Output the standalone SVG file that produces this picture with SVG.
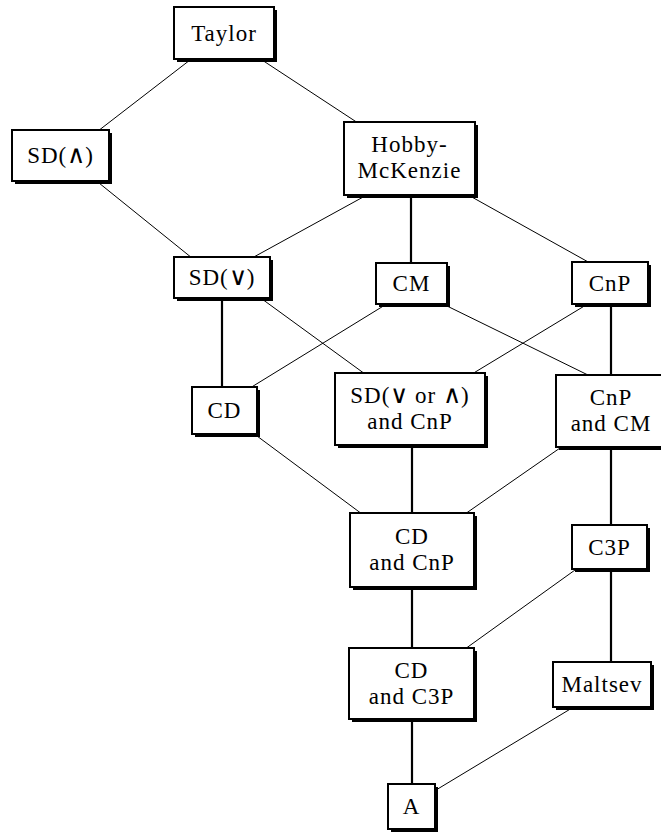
<svg xmlns="http://www.w3.org/2000/svg" width="661" height="832" viewBox="0 0 661 832">
<style>
.bg{fill:#fff}
.sh{fill:#000}
.bx{fill:#fff;stroke:#000;stroke-width:2}
.d{stroke:#000;stroke-width:1;fill:none}
.v{stroke:#000;stroke-width:2.2;fill:none}
text{font-family:"Liberation Serif","DejaVu Serif","Times New Roman",serif;font-size:23px;letter-spacing:1px;text-anchor:middle;fill:#000}
.op{font-family:"DejaVu Sans",sans-serif;font-size:25px;font-weight:300;letter-spacing:0}
</style>
<rect class="bg" x="0" y="0" width="661" height="832"/>
<g id="connectors">
<line class="d" x1="190" y1="60" x2="98" y2="131"/>
<line class="d" x1="262" y1="60" x2="358" y2="123"/>
<line class="d" x1="99" y1="183" x2="192" y2="258"/>
<line class="d" x1="365" y1="196" x2="252" y2="258"/>
<line class="v" x1="411" y1="196" x2="411" y2="264"/>
<line class="d" x1="470" y1="196" x2="590" y2="263"/>
<line class="v" x1="222" y1="299" x2="222" y2="388"/>
<line class="d" x1="262" y1="299" x2="365" y2="374"/>
<line class="d" x1="385" y1="305" x2="250" y2="388"/>
<line class="d" x1="445" y1="305" x2="590" y2="376"/>
<line class="d" x1="586" y1="305" x2="472" y2="374"/>
<line class="v" x1="611" y1="305" x2="611" y2="376"/>
<line class="d" x1="257" y1="436" x2="362" y2="514"/>
<line class="v" x1="412" y1="446" x2="412" y2="514"/>
<line class="d" x1="560" y1="448" x2="465" y2="514"/>
<line class="v" x1="611" y1="448" x2="611" y2="526"/>
<line class="d" x1="575" y1="570" x2="465" y2="649"/>
<line class="v" x1="611" y1="570" x2="611" y2="663"/>
<line class="v" x1="412" y1="588" x2="412" y2="649"/>
<line class="v" x1="412" y1="720" x2="412" y2="785"/>
<line class="d" x1="572" y1="708" x2="436" y2="790"/>
</g>
<g id="taylor"><rect class="sh" x="177" y="10" width="100" height="52"/><rect class="bx" x="174" y="7" width="100" height="52"/><text x="224" y="41">Taylor</text></g>
<g id="sd-meet"><rect class="sh" x="15" y="133" width="97" height="51"/><rect class="bx" x="12" y="130" width="97" height="51"/><text x="60.5" y="163">SD(<tspan class="op">∧</tspan>)</text></g>
<g id="hobby"><rect class="sh" x="347" y="125" width="131" height="73"/><rect class="bx" x="344" y="122" width="131" height="73"/><text x="409.5" y="152">Hobby-</text><text x="409.5" y="178">McKenzie</text></g>
<g id="sd-join"><rect class="sh" x="177" y="260" width="96" height="41"/><rect class="bx" x="174" y="257" width="96" height="41"/><text x="222" y="285">SD(<tspan class="op">∨</tspan>)</text></g>
<g id="cm"><rect class="sh" x="379" y="266" width="71" height="41"/><rect class="bx" x="376" y="263" width="71" height="41"/><text x="411.5" y="291">CM</text></g>
<g id="cnp"><rect class="sh" x="575" y="265" width="76" height="42"/><rect class="bx" x="572" y="262" width="76" height="42"/><text x="610" y="291">CnP</text></g>
<g id="cd"><rect class="sh" x="195" y="390" width="65" height="47"/><rect class="bx" x="192" y="387" width="65" height="47"/><text x="224.5" y="418">CD</text></g>
<g id="sd-cnp"><rect class="sh" x="338" y="376" width="150" height="72"/><rect class="bx" x="335" y="373" width="150" height="72"/><text x="410" y="403">SD(<tspan class="op">∨</tspan> or <tspan class="op">∧</tspan>)</text><text x="410" y="429">and CnP</text></g>
<g id="cnp-cm"><rect class="sh" x="559" y="378" width="112" height="72"/><rect class="bx" x="556" y="375" width="112" height="72"/><text x="611" y="405">CnP</text><text x="611" y="431">and CM</text></g>
<g id="cd-cnp"><rect class="sh" x="353" y="516" width="124" height="74"/><rect class="bx" x="350" y="513" width="124" height="74"/><text x="412" y="544">CD</text><text x="412" y="570">and CnP</text></g>
<g id="c3p"><rect class="sh" x="575" y="528" width="75" height="44"/><rect class="bx" x="572" y="525" width="75" height="44"/><text x="609.5" y="555">C3P</text></g>
<g id="cd-c3p"><rect class="sh" x="352" y="651" width="125" height="71"/><rect class="bx" x="349" y="648" width="125" height="71"/><text x="411.5" y="678">CD</text><text x="411.5" y="704">and C3P</text></g>
<g id="maltsev"><rect class="sh" x="556" y="665" width="98" height="45"/><rect class="bx" x="553" y="662" width="98" height="45"/><text x="602" y="692">Maltsev</text></g>
<g id="a"><rect class="sh" x="391" y="787" width="47" height="45"/><rect class="bx" x="388" y="784" width="47" height="45"/><text x="411.5" y="814">A</text></g>
</svg>
